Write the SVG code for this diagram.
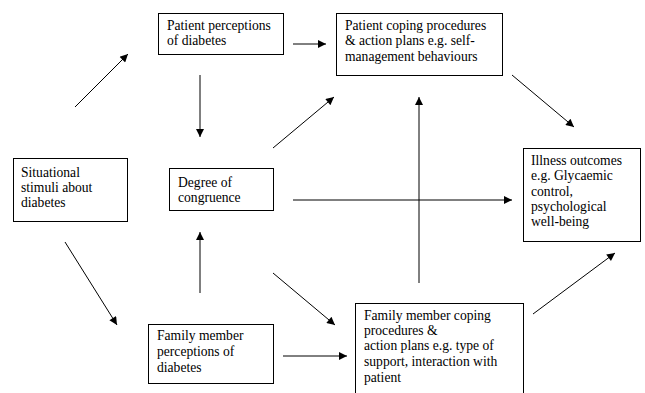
<svg xmlns="http://www.w3.org/2000/svg" width="645" height="393" viewBox="0 0 645 393">
<defs>
<style>
.box{fill:#fff;stroke:#000;stroke-width:1}
.t{font-family:"Liberation Serif","Times New Roman",serif;font-size:13.6px;fill:#000}
.c line{stroke:#000;stroke-width:1;marker-end:url(#ah)}
</style>
<marker id="ah" viewBox="0 0 10 10" refX="10" refY="5" markerWidth="10" markerHeight="8" markerUnits="userSpaceOnUse" orient="auto">
<path d="M0,0 L10,5 L0,10 z" fill="#000"/>
</marker>
</defs>
<rect width="645" height="393" fill="#fff"/>
<g id="ppd"><rect class="box" x="158.5" y="13.5" width="125" height="41"/>
<text class="t" x="167" y="30">Patient perceptions</text><text class="t" x="167" y="45">of diabetes</text></g>
<g id="pcp"><rect class="box" x="336.5" y="13.5" width="166" height="62"/>
<text class="t" x="345" y="30">Patient coping procedures</text><text class="t" x="345" y="45">&amp; action plans e.g. self-</text><text class="t" x="345" y="61">management behaviours</text></g>
<g id="ssd"><rect class="box" x="13.5" y="158.5" width="114" height="63"/>
<text class="t" x="21" y="177">Situational</text><text class="t" x="21" y="192">stimuli about</text><text class="t" x="21" y="207">diabetes</text></g>
<g id="doc"><rect class="box" x="169.5" y="168.5" width="104" height="42"/>
<text class="t" x="178" y="187">Degree of</text><text class="t" x="178" y="202">congruence</text></g>
<g id="io"><rect class="box" x="523.5" y="148.5" width="117" height="93"/>
<text class="t" x="531" y="165">Illness outcomes</text><text class="t" x="531" y="180">e.g. Glycaemic</text><text class="t" x="531" y="196">control,</text><text class="t" x="531" y="211">psychological</text><text class="t" x="531" y="226">well-being</text></g>
<g id="fmp"><rect class="box" x="148.5" y="324.5" width="125" height="59"/>
<text class="t" x="157" y="340">Family member</text><text class="t" x="157" y="356">perceptions of</text><text class="t" x="157" y="372">diabetes</text></g>
<g id="fmc"><rect class="box" x="355.5" y="303.5" width="168" height="95"/>
<text class="t" x="364" y="320">Family member coping</text><text class="t" x="364" y="335">procedures &amp;</text><text class="t" x="364" y="350">action plans e.g. type of</text><text class="t" x="364" y="366">support, interaction with</text><text class="t" x="364" y="382">patient</text></g>
<g id="connectors" class="c">
<line x1="75" y1="107" x2="128" y2="54"/>
<line x1="293" y1="44" x2="326" y2="44"/>
<line x1="200" y1="75" x2="200" y2="137"/>
<line x1="273" y1="148" x2="334" y2="97"/>
<line x1="512" y1="75" x2="574" y2="127"/>
<line x1="419" y1="283" x2="419" y2="97"/>
<line x1="293" y1="200" x2="512" y2="200"/>
<line x1="65" y1="242" x2="117" y2="325"/>
<line x1="200" y1="293" x2="200" y2="232"/>
<line x1="273" y1="273" x2="335" y2="325"/>
<line x1="283" y1="356" x2="347" y2="356"/>
<line x1="533" y1="314" x2="615" y2="253"/>
</g>
</svg>
